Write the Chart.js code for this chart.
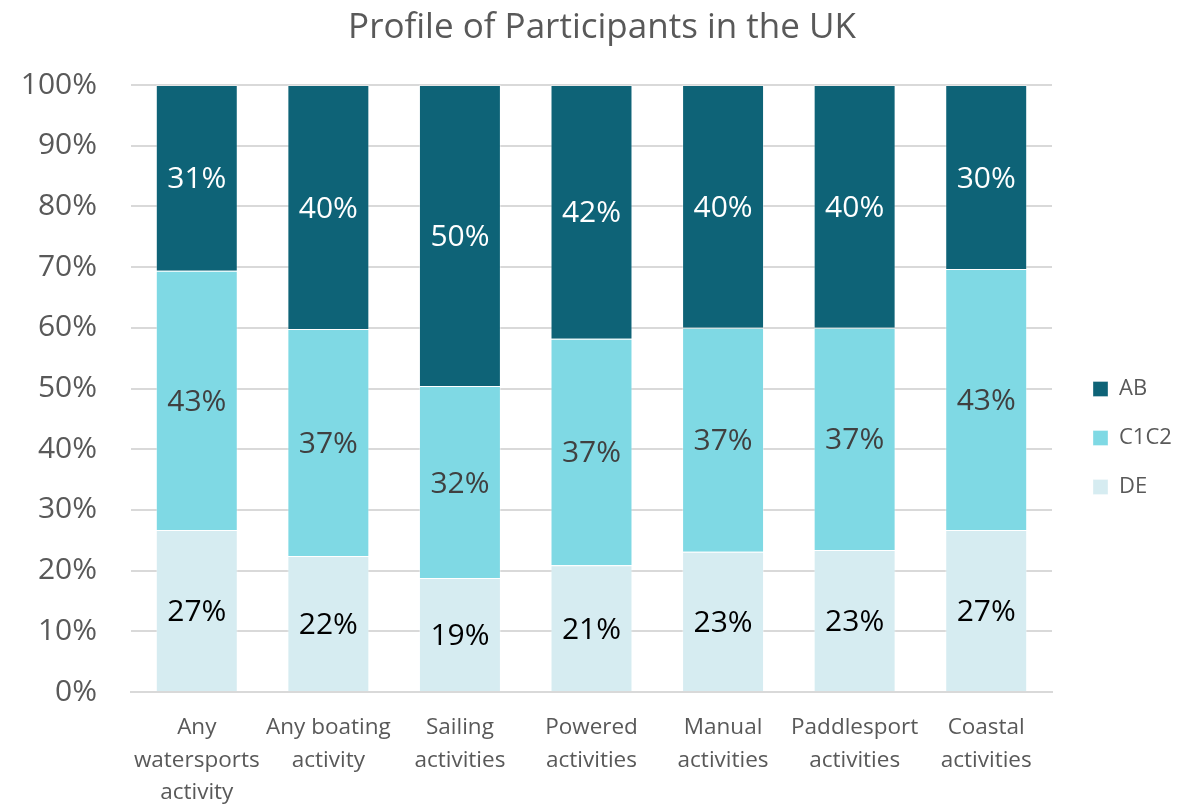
<!DOCTYPE html>
<html>
<head>
<meta charset="utf-8">
<title>Profile of Participants in the UK</title>
<script src="https://cdn.jsdelivr.net/npm/chart.js@4"></script>
<style>
    html, body { margin: 0; padding: 0; background: #ffffff; }
    #wrap { width: 1204px; height: 807px; }
</style>
</head>
<body>
<div id="wrap"><canvas id="chart" width="1204" height="807"></canvas></div>
<script>
// Categories (x axis), multi-line like the original
const categories = [
    ["Any", "watersports", "activity"],
    ["Any boating", "activity"],
    ["Sailing", "activities"],
    ["Powered", "activities"],
    ["Manual", "activities"],
    ["Paddlesport", "activities"],
    ["Coastal", "activities"]
];

// Share of participants by social grade (%)
const deValues   = [26.7, 22.4, 18.8, 20.9, 23.1, 23.4, 26.7];
const c1c2Values = [42.7, 37.4, 31.6, 37.3, 36.9, 36.6, 43.0];
const abValues   = [30.6, 40.2, 49.6, 41.8, 40.0, 40.0, 30.3];

const seriesNames = ["DE", "C1C2", "AB"];
const yTicks = [0, 10, 20, 30, 40, 50, 60, 70, 80, 90, 100];

const fontFamily = "'Open Sans', 'Noto Sans', sans-serif";
const greyText = "#595959";

// Draw the value labels inside each segment
const segmentLabels = {
    id: "segmentLabels",
    afterDatasetsDraw(chart) {
        const ctx = chart.ctx;
        ctx.save();
        ctx.font = "30px " + fontFamily;
        ctx.textAlign = "center";
        ctx.textBaseline = "middle";
        chart.data.datasets.forEach((ds, i) => {
            const meta = chart.getDatasetMeta(i);
            meta.data.forEach((bar, j) => {
                const yMid = (bar.y + bar.base) / 2;
                ctx.fillStyle = ds.labelColor;
                ctx.fillText(Math.round(ds.data[j]) + "%", bar.x, yMid + 2);
            });
        });
        ctx.restore();
    }
};

// Put the legend where Excel had it (right side, a bit below middle)
// and centre the title over the whole canvas
const legendPlacer = {
    id: "legendPlacer",
    afterLayout(chart) {
        const lg = chart.legend;
        if (lg) {
            const w = lg.width, h = lg.height;
            lg.left = 1066;
            lg.right = 1066 + w;
            lg.top = 351;
            lg.bottom = 351 + h;
        }
        const tb = chart.titleBlock;
        if (tb) {
            tb.left = 0;
            tb.right = chart.width;
            tb.width = chart.width;
        }
    }
};

const chartCanvas = document.getElementById("chart");

new Chart(chartCanvas, {
    type: "bar",
    data: {
        labels: categories,
        datasets: [
            { label: seriesNames[0], data: deValues,   backgroundColor: "#d6ecf1", labelColor: "#000000" },
            { label: seriesNames[1], data: c1c2Values, backgroundColor: "#7fd9e4", labelColor: "#404040" },
            { label: seriesNames[2], data: abValues,   backgroundColor: "#0e6377", labelColor: "#ffffff" }
        ].map(d => Object.assign(d, {
            borderColor: "rgba(255,255,255,0.35)",
            borderWidth: 1,
            barPercentage: 0.623,
            categoryPercentage: 1.0
        }))
    },
    options: {
        responsive: false,
        animation: false,
        layout: { padding: { left: 0, right: 152, top: 0, bottom: 0 } },
        scales: {
            x: {
                stacked: true,
                grid: { display: false, drawTicks: false },
                border: { display: true, color: "#d9d9d9", width: 2 },
                ticks: {
                    color: greyText,
                    padding: 20,
                    maxRotation: 0,
                    autoSkip: false,
                    font: { family: fontFamily, size: 22.5, lineHeight: 1.43 }
                },
                afterFit(s) { s.height = 115; }
            },
            y: {
                stacked: true,
                min: 0,
                max: 100,
                afterBuildTicks(s) { s.ticks = yTicks.map(v => ({ value: v })); },
                grid: { color: "#d9d9d9", lineWidth: 2, drawTicks: false },
                border: { display: false },
                ticks: {
                    color: greyText,
                    padding: 34,
                    font: { family: fontFamily, size: 30 },
                    callback: v => v + "%"
                },
                afterFit(s) { s.width = 131; }
            }
        },
        plugins: {
            title: {
                display: true,
                text: "Profile of Participants in the UK",
                color: greyText,
                font: { family: fontFamily, size: 35, weight: "normal" },
                padding: { top: 7, bottom: 36 }
            },
            legend: {
                display: true,
                position: "chartArea",
                align: "start",
                reverse: true,
                labels: {
                    boxWidth: 15,
                    boxHeight: 15,
                    padding: 27,
                    color: greyText,
                    font: { family: fontFamily, size: 22 }
                }
            },
            tooltip: { enabled: false }
        }
    },
    plugins: [segmentLabels, legendPlacer]
});
</script>
</body>
</html>
